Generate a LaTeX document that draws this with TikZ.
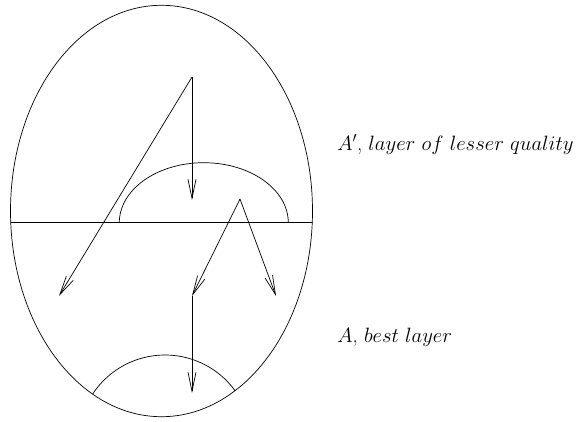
\documentclass[tikz,border=0pt]{standalone}
\usetikzlibrary{arrows.meta}
\begin{document}
\begin{tikzpicture}[x=1pt,y=-1pt,line width=0.7pt,
  arr/.style={-{Straight Barb[length=19pt,width=8pt,line width=0.7pt]}},
  lbl/.style={anchor=base west,inner sep=0pt,font=\fontsize{20.74}{25}\selectfont}]
\useasboundingbox (0,0) rectangle (584,421);
% outer ellipse
\coordinate (E) at (161.5,211);
\draw (E) ellipse [x radius=151,y radius=205.7];
\begin{scope}
  \clip (E) ellipse [x radius=151,y radius=205.7];
  % dividing line between the two layers
  \coordinate (L) at (0,222.7);
  \coordinate (R) at (330,222.7);
  \draw (L) -- (R);
  % lower arc
  \coordinate (C2) at (165,441.6);
  \draw (C2) circle [radius=86.6];
\end{scope}
% upper half-ellipse
\coordinate (C1) at (203.8,222.7);
\draw ([xshift=-84.5pt]C1) arc [start angle=180,end angle=360,x radius=84.5,y radius=60];
% rays
\coordinate (P) at (192,77);
\coordinate (P1) at (59,296);
\coordinate (P2) at (192,200);
\coordinate (Q) at (240,199);
\coordinate (Q1) at (192,296);
\coordinate (Q2) at (276,296);
\coordinate (Q3) at (192,393);
\draw[arr] (P) -- (P1);
\draw[arr] (P) -- (P2);
\draw[arr] (Q) -- (Q1);
\draw[arr] (Q) -- (Q2);
\draw[arr] (Q1) -- (Q3);
% labels
\node[lbl] (t1) at (337,150) {$A'$, $layer\ of\ lesser\ quality$};
\node[lbl] (t2) at (337,342) {$A$, $best\ layer$};
\end{tikzpicture}
\end{document}
